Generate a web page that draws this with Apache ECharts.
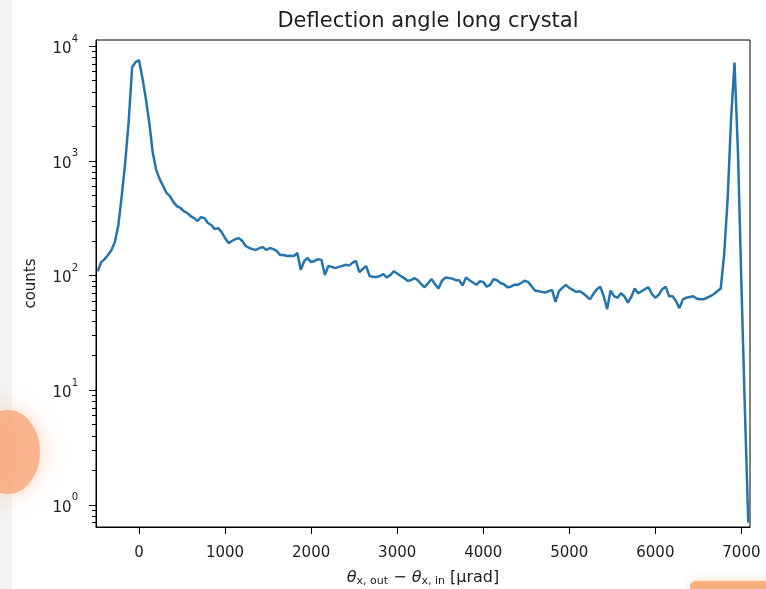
<!DOCTYPE html>
<html>
<head>
<meta charset="utf-8">
<script src="https://cdn.jsdelivr.net/npm/echarts@6/dist/echarts.min.js"></script>
<style>
html,body{margin:0;padding:0;background:#fff;}
#chart{width:766px;height:589px;}
</style>
</head>
<body>
<div id="chart"></div>
<script>
// ---- data ----
const BIN_START = -480;   // first bin centre [µrad]
const BIN_WIDTH = 40;     // bin width [µrad]
const counts = [
  109,131,139,151,167,196,276,503,975,2220,
  6560,7260,7550,5260,3450,2130,1170,831,693,603,
  524,493,437,403,388,365,351,330,317,299,
  323,317,287,276,254,259,239,212,192,200,
  208,212,200,181,174,170,167,174,177,167,
  174,170,164,151,151,148,149,148,157,112,
  134,142,131,134,139,137,101,121,119,116,
  119,121,124,122,129,134,107,114,121,99,
  97,97,99,103,96,101,109,104,99,95,
  90,91,95,91,84,79,86,93,84,77,
  90,96,95,94,91,91,82,96,91,87,
  83,89,88,80,83,93,91,86,84,79,
  80,83,83,86,90,88,81,74,73,72,
  71,73,75,59,73,78,83,78,75,72,
  73,70,66,62,69,76,80,66,51,74,
  66,64,70,66,58,65,77,70,73,76,
  79,69,64,68,76,80,66,66,60,52,
  62,64,65,66,63,62,62,64,66,69,
  73,77,154,464,2310,7210,1200,85,7,0.7
];
const xTickValues = [0,1000,2000,3000,4000,5000,6000,7000];
const yMajorValues = [1,10,100,1000,10000];
const yMinorValues = [0.7,0.8,0.9,
  2,3,4,5,6,7,8,9,
  20,30,40,50,60,70,80,90,
  200,300,400,500,600,700,800,900,
  2000,3000,4000,5000,6000,7000,8000,9000];
const X_MIN = -500, X_MAX = 7100;
const Y_MIN = 0.641, Y_MAX = 11330;
const titleText = 'Deflection angle long crystal';
const yName = 'counts';

// ---- build ----
const seriesData = counts.map((c, i) => [BIN_START + i * BIN_WIDTH, c]);
const FONT = 'DejaVu Sans';
const TXT = '#1e1e1e';

const chart = echarts.init(document.getElementById('chart'), null, {renderer: 'canvas'});
const option = {
  animation: false,
  backgroundColor: '#ffffff',
  title: {
    text: titleText,
    left: 423, top: 6, textAlign: 'center',
    textStyle: {fontFamily: FONT, fontSize: 21, fontWeight: 'normal', color: TXT}
  },
  grid: {left: 96, right: 16, top: 40, bottom: 62, show: true, borderColor: '#000', borderWidth: 1,
    backgroundColor: '#fff', containLabel: false, outerBoundsMode: 'none'},
  xAxis: {
    type: 'value', min: X_MIN, max: X_MAX,
    axisLine: {show: true, onZero: false, lineStyle: {color: '#000', width: 1}},
    axisTick: {show: true, customValues: xTickValues, length: 7, lineStyle: {color: '#000', width: 1}},
    axisLabel: {customValues: xTickValues, fontFamily: FONT, fontSize: 15, color: TXT, margin: 19,
      formatter: function (v) { return String(v); }},
    splitLine: {show: false},
    name: '{t|θ}{sub|x, out}{m| − }{t|θ}{sub|x, in}{m| [μrad]}',
    nameLocation: 'middle', nameGap: 42,
    nameTextStyle: {
      fontFamily: FONT, color: TXT,
      rich: {
        t: {fontFamily: FONT, fontSize: 16, fontStyle: 'italic', color: TXT, lineHeight: 18},
        sub: {fontFamily: FONT, fontSize: 11, color: TXT, lineHeight: 18, verticalAlign: 'bottom'},
        m: {fontFamily: FONT, fontSize: 16, color: TXT, lineHeight: 18}
      }
    }
  },
  yAxis: [{
    type: 'log', logBase: 10, min: Y_MIN, max: Y_MAX, position: 'left',
    axisLine: {show: true, onZero: false, lineStyle: {color: '#000', width: 1}},
    axisTick: {show: true, customValues: yMajorValues, length: 7, lineStyle: {color: '#000', width: 1}},
    axisLabel: {
      customValues: yMajorValues, margin: 18,
      formatter: function (v) {
        const e = Math.round(Math.log10(v));
        return '{b|10}{s|' + e + '}';
      },
      rich: {
        b: {fontFamily: FONT, fontSize: 15, color: TXT, lineHeight: 24, padding: [6, 0, 0, 0]},
        s: {fontFamily: FONT, fontSize: 10, color: TXT, lineHeight: 24, verticalAlign: 'top'}
      }
    },
    splitLine: {show: false},
    name: yName, nameLocation: 'middle', nameGap: 57,
    nameTextStyle: {fontFamily: FONT, fontSize: 15, color: TXT}
  }, {
    type: 'log', logBase: 10, min: Y_MIN, max: Y_MAX, position: 'left',
    axisLine: {show: false, onZero: false},
    axisTick: {show: true, customValues: yMinorValues, length: 4, lineStyle: {color: '#000', width: 1}},
    axisLabel: {show: false},
    splitLine: {show: false}
  }],
  series: [{
    type: 'line', xAxisIndex: 0, yAxisIndex: 0,
    data: seriesData, showSymbol: false, symbol: 'none',
    lineStyle: {color: '#2475ad', width: 2.5},
    silent: true, z: 3
  }],
  graphic: [
    {type: 'rect', z: -10, shape: {x: 0, y: 0, width: 12, height: 589}, style: {fill: '#f3f3f3'}},
    {type: 'ellipse', z: -9, shape: {cx: 8, cy: 452, rx: 32, ry: 42},
      style: {fill: 'rgba(248,168,122,0.8)', shadowBlur: 22, shadowColor: 'rgba(248,175,135,0.7)'}},
    {type: 'rect', z: -9, shape: {x: 690, y: 581, width: 90, height: 12, r: 6},
      style: {fill: 'rgba(246,166,114,0.85)', shadowBlur: 8, shadowColor: 'rgba(246,166,114,0.6)'}}
  ]
};
chart.setOption(option);
</script>
</body>
</html>
